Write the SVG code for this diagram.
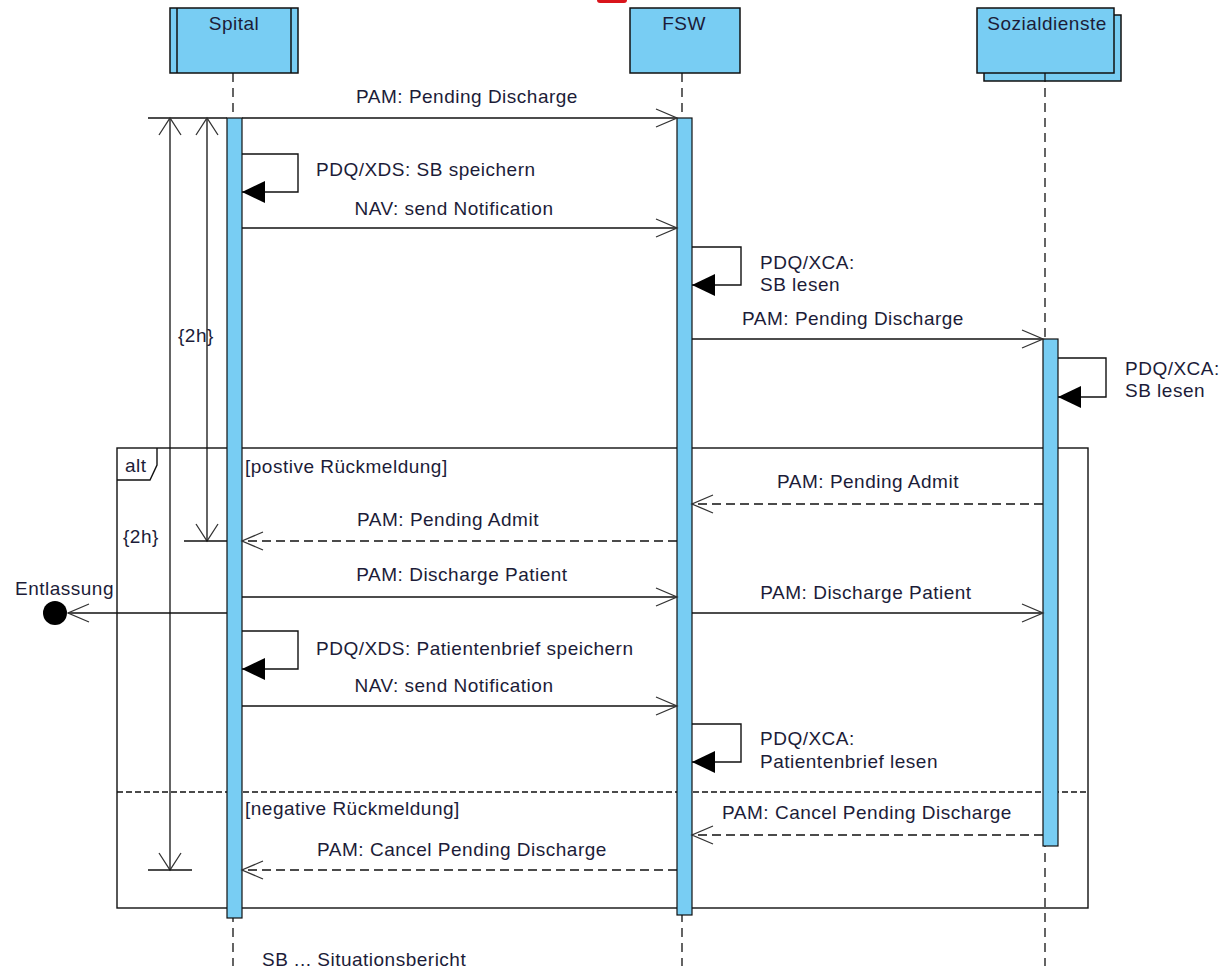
<svg xmlns="http://www.w3.org/2000/svg" width="1224" height="970" viewBox="0 0 1224 970">
<style>
text{font-family:"Liberation Sans",Arial,sans-serif;font-size:19px;letter-spacing:0.5px;fill:#1c1c38}
.m{text-anchor:middle}
.box{fill:#78CDF3;stroke:#111;stroke-width:1.5}
.act{fill:#78CDF3;stroke:#111;stroke-width:1.2}
.life{stroke:#111;stroke-width:1.3;stroke-dasharray:9 6;fill:none}
.msg{stroke:#111;stroke-width:1.4;fill:none;marker-end:url(#open)}
.ret{stroke:#111;stroke-width:1.4;fill:none;stroke-dasharray:9 5;marker-end:url(#open)}
.self{stroke:#111;stroke-width:1.4;fill:none;marker-end:url(#filled)}
.tc{stroke:#111;stroke-width:1.3;fill:none;marker-start:url(#tca);marker-end:url(#tca)}
.frame{stroke:#111;stroke-width:1.4;fill:none}
</style>
<defs>
<marker id="open" markerUnits="userSpaceOnUse" markerWidth="30" markerHeight="30" viewBox="-25 -12 30 24" refX="0" refY="0" orient="auto" overflow="visible">
<path d="M-21,-9 L0,0 L-21,9" fill="none" stroke="#333" stroke-width="1.3"/>
</marker>
<marker id="filled" markerUnits="userSpaceOnUse" markerWidth="30" markerHeight="30" viewBox="-25 -12 30 24" refX="0" refY="0" orient="auto" overflow="visible">
<path d="M-23,-11 L0,0 L-23,11 Z" fill="#000"/>
</marker>
<marker id="tca" markerUnits="userSpaceOnUse" markerWidth="30" markerHeight="30" viewBox="-25 -12 30 24" refX="0" refY="0" orient="auto-start-reverse" overflow="visible">
<path d="M-17,-11 L0,0 L-17,11" fill="none" stroke="#333" stroke-width="1.3"/>
</marker>
</defs>
<rect x="597" y="-6" width="30" height="9" rx="3" fill="#d9141b"/>
<g id="alt-frame">
<rect class="frame" x="117" y="448" width="971" height="460"/>
<path class="frame" d="M117,480 H150 L157,465 V448"/>
<text x="125" y="472">alt</text>
<line x1="117" y1="792" x2="1088" y2="792" stroke="#111" stroke-width="1.3" stroke-dasharray="6 3"/>
<text x="245" y="473">[postive Rückmeldung]</text>
<text x="245" y="815">[negative Rückmeldung]</text>
</g>
<g id="spital">
<rect class="box" x="170" y="8" width="128" height="65"/>
<line x1="177" y1="8" x2="177" y2="73" stroke="#111" stroke-width="1.5"/>
<line x1="291" y1="8" x2="291" y2="73" stroke="#111" stroke-width="1.5"/>
<text class="m" x="234" y="30">Spital</text>
<line class="life" x1="233" y1="73" x2="233" y2="966"/>
<rect class="act" x="227" y="118" width="15" height="800"/>
</g>
<g id="fsw">
<rect class="box" x="630" y="8" width="110" height="65"/>
<text class="m" x="684" y="30">FSW</text>
<line class="life" x1="682" y1="73" x2="682" y2="966"/>
<rect class="act" x="677" y="118" width="15" height="797"/>
</g>
<g id="sozialdienste">
<rect class="box" x="984" y="15" width="137" height="66"/>
<rect class="box" x="977" y="8" width="137" height="65"/>
<text class="m" x="1047" y="30">Sozialdienste</text>
<line class="life" x1="1045" y1="73" x2="1045" y2="966"/>
<rect class="act" x="1043" y="339" width="15" height="507"/>
</g>
<g id="entlassung">
<circle cx="55" cy="613" r="12" fill="#000"/>
<text x="15" y="595">Entlassung</text>
</g>
<g id="timing">
<line x1="148" y1="118" x2="227" y2="118" stroke="#111" stroke-width="1.4"/>
<line class="tc" x1="170" y1="118" x2="170" y2="870"/>
<line x1="148" y1="870" x2="192" y2="870" stroke="#111" stroke-width="1.4"/>
<text x="178" y="342">{2h}</text>
<line class="tc" x1="207" y1="118" x2="207" y2="541"/>
<line x1="184" y1="541" x2="227" y2="541" stroke="#111" stroke-width="1.4"/>
<text x="123" y="543">{2h}</text>
</g>
<g id="connectors">
<line class="msg" x1="242" y1="118" x2="677" y2="118"/>
<text class="m" x="467" y="103">PAM: Pending Discharge</text>
<path class="self" d="M242,154 H298 V192 H242"/>
<text x="316" y="176">PDQ/XDS: SB speichern</text>
<line class="msg" x1="242" y1="228" x2="677" y2="228"/>
<text class="m" x="454" y="215">NAV: send Notification</text>
<path class="self" d="M692,247 H741 V285 H692"/>
<text x="760" y="269">PDQ/XCA:</text>
<text x="760" y="291">SB lesen</text>
<line class="msg" x1="692" y1="339" x2="1043" y2="339"/>
<text class="m" x="853" y="325">PAM: Pending Discharge</text>
<path class="self" d="M1058,358 H1106 V397 H1058"/>
<text x="1125" y="375">PDQ/XCA:</text>
<text x="1125" y="397">SB lesen</text>
<line class="ret" x1="1043" y1="504" x2="692" y2="504"/>
<text class="m" x="868" y="488">PAM: Pending Admit</text>
<line class="ret" x1="677" y1="541" x2="242" y2="541"/>
<text class="m" x="448" y="526">PAM: Pending Admit</text>
<line class="msg" x1="242" y1="597" x2="677" y2="597"/>
<text class="m" x="462" y="581">PAM: Discharge Patient</text>
<line class="msg" x1="692" y1="613" x2="1043" y2="613"/>
<text class="m" x="866" y="599">PAM: Discharge Patient</text>
<line class="msg" x1="227" y1="613" x2="68" y2="613"/>
<path class="self" d="M242,631 H298 V669 H242"/>
<text x="316" y="655">PDQ/XDS: Patientenbrief speichern</text>
<line class="msg" x1="242" y1="706" x2="677" y2="706"/>
<text class="m" x="454" y="692">NAV: send Notification</text>
<path class="self" d="M692,724 H741 V762 H692"/>
<text x="760" y="745">PDQ/XCA:</text>
<text x="760" y="768">Patientenbrief lesen</text>
<line class="ret" x1="1043" y1="835" x2="692" y2="835"/>
<text class="m" x="867" y="819">PAM: Cancel Pending Discharge</text>
<line class="ret" x1="677" y1="870" x2="242" y2="870"/>
<text class="m" x="462" y="856">PAM: Cancel Pending Discharge</text>
</g>
<text x="262" y="966">SB ... Situationsbericht</text>
</svg>
